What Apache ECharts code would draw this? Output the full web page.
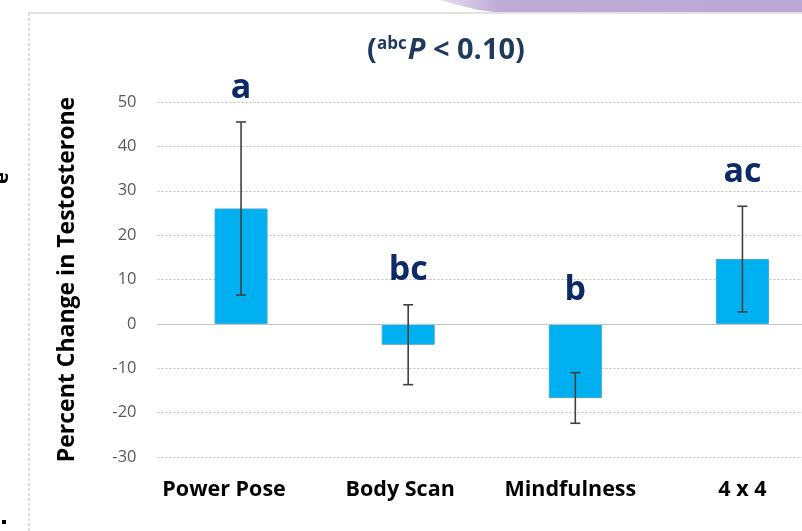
<!DOCTYPE html>
<html>
<head>
<meta charset="utf-8">
<script src="https://cdn.jsdelivr.net/npm/echarts@6/dist/echarts.min.js"></script>
<style>
html,body{margin:0;padding:0;background:#fff;overflow:hidden;width:802px;height:531px;}
#chart{width:826px;height:531px;}
</style>
</head>
<body>
<div id="chart"></div>
<script>
// ---- data ----
var categories = ['Power Pose', 'Body Scan', 'Mindfulness', '4 x 4'];
var meanChange = [26, -4.7, -16.7, 14.6];
var errorSize = [19.5, 9.0, 5.7, 11.9];
var groupLetters = ['a', 'bc', 'b', 'ac'];
var yTicks = { min: -30, max: 50, step: 10 };
var yAxisTitle = 'Percent Change in Testosterone';

var FONT = "'Open Sans', 'Noto Sans', sans-serif";
var chart = echarts.init(document.getElementById('chart'), null, { renderer: 'canvas' });

var errData = categories.map(function (c, i) {
  return [i, meanChange[i] - errorSize[i], meanChange[i] + errorSize[i]];
});
var letterData = categories.map(function (c, i) {
  return [i, Math.max(meanChange[i] + errorSize[i], 0), groupLetters[i]];
});
var labelShift = { 'Power Pose': 34, 'Body Scan': 16, 'Mindfulness': 10 };

var X_FS = 21.5;
var xRich = { l0: { fontSize: X_FS, fontWeight: 'bold', color: '#000', fontFamily: FONT } };
Object.keys(labelShift).forEach(function (k) {
  xRich['ls' + labelShift[k]] = { fontSize: X_FS, fontWeight: 'bold', color: '#000', fontFamily: FONT, padding: [0, labelShift[k], 0, 0] };
});

var option = {
  backgroundColor: '#ffffff',
  animation: false,
  title: {
    left: 441, top: 31, textAlign: 'center',
    text: '{par|(}{sup|abc}{p|P}{txt| < 0.10)}',
    textStyle: {
      rich: {
        par: { fontSize: 29, fontWeight: 'bold', color: '#1F3B5C', fontFamily: FONT },
        sup: { fontSize: 17, color: '#1F3B5C', fontFamily: FONT, padding: [0, 1, 13, 0] },
        p: { fontSize: 29, fontWeight: 'bold', fontStyle: 'italic', color: '#1F3B5C', fontFamily: FONT },
        txt: { fontSize: 29, fontWeight: 'bold', color: '#1F3B5C', fontFamily: FONT }
      }
    }
  },
  grid: { left: 157.5, right: 0, top: 102, bottom: 74, containLabel: false },
  xAxis: {
    type: 'category',
    data: categories,
    axisLine: { show: false },
    axisTick: { show: false },
    axisLabel: {
      margin: 22,
      formatter: function (v) { return '{l' + (labelShift[v] ? 's' + labelShift[v] : '0') + '|' + v + '}'; },
      rich: xRich
    }
  },
  yAxis: {
    type: 'value',
    min: yTicks.min, max: yTicks.max, interval: yTicks.step,
    name: yAxisTitle,
    nameLocation: 'middle',
    nameGap: 79,
    nameTextStyle: { fontSize: 23, fontWeight: 'bold', color: '#000', fontFamily: FONT },
    axisLine: { show: false },
    axisTick: { show: false },
    axisLabel: { margin: 21, fontSize: 16.5, color: '#595959', fontFamily: FONT },
    splitLine: { lineStyle: { color: '#bdbdbd', type: [2, 2], width: 1 } }
  },
  series: [
    {
      type: 'bar',
      data: meanChange,
      barWidth: 53,
      itemStyle: { color: '#00B0F0', borderColor: '#3AA8D8', borderWidth: 1 },
      markLine: {
        silent: true, symbol: 'none', label: { show: false },
        lineStyle: { color: '#c4c4c4', type: 'solid', width: 1 },
        data: [{ yAxis: 0 }]
      },
      z: 2
    },
    {
      type: 'custom',
      data: errData,
      z: 5,
      renderItem: function (params, api) {
        var x = api.value(0);
        var lo = api.coord([x, api.value(1)]);
        var hi = api.coord([x, api.value(2)]);
        var cap = 5;
        var st = { stroke: '#404040', lineWidth: 1.6 };
        return {
          type: 'group',
          children: [
            { type: 'line', shape: { x1: hi[0], y1: hi[1], x2: lo[0], y2: lo[1] }, style: st },
            { type: 'line', shape: { x1: hi[0] - cap, y1: hi[1], x2: hi[0] + cap, y2: hi[1] }, style: st },
            { type: 'line', shape: { x1: lo[0] - cap, y1: lo[1], x2: lo[0] + cap, y2: lo[1] }, style: st }
          ]
        };
      }
    },
    {
      type: 'custom',
      data: letterData,
      z: 6,
      renderItem: function (params, api) {
        var p = api.coord([api.value(0), api.value(1)]);
        return {
          type: 'text',
          style: {
            x: p[0], y: p[1] - 17,
            text: letterData[params.dataIndex][2],
            align: 'center', verticalAlign: 'bottom',
            fontSize: 34, fontWeight: 'bold', fill: '#0C2A66', fontFamily: FONT
          }
        };
      }
    }
  ],
  graphic: [
    {
      type: 'polygon', silent: true, z: 0,
      shape: { points: [[440, 0], [826, 0], [826, 12], [494, 12], [478, 10], [462, 6]] },
      style: {
        fill: new echarts.graphic.LinearGradient(0, 0, 1, 0, [
          { offset: 0, color: '#E6DDF0' }, { offset: 0.15, color: '#BFACD6' }, { offset: 1, color: '#B9A6D3' }
        ])
      }
    },
    { type: 'line', silent: true, shape: { x1: 28, y1: 13, x2: 826, y2: 13 }, style: { stroke: '#e2e2e2', lineWidth: 2 } },
    { type: 'line', silent: true, shape: { x1: 29, y1: 13, x2: 29, y2: 531 }, style: { stroke: '#dedede', lineWidth: 2, lineDash: [3, 2] } },
    { type: 'text', silent: true, rotation: Math.PI / 2, x: -8, y: 184,
      style: { text: 'e', fontSize: 20, fontWeight: 'bold', fill: '#000', fontFamily: FONT } },
    { type: 'rect', silent: true, shape: { x: 2, y: 520, width: 4, height: 4 }, style: { fill: '#000' } }
  ]
};
chart.setOption(option);
</script>
</body>
</html>
